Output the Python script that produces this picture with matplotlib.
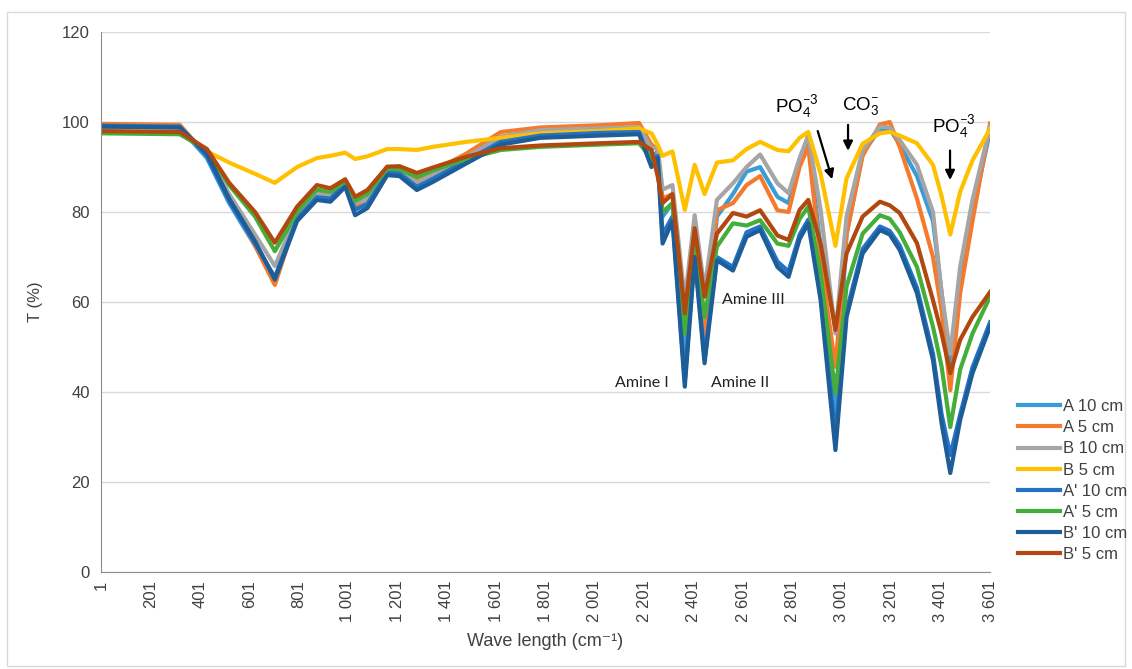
import matplotlib
matplotlib.use("Agg")
import matplotlib.pyplot as plt
from matplotlib.patches import Rectangle

plt.rcParams['font.family'] = ['Liberation Sans', 'DejaVu Sans']
plt.rcParams['mathtext.fontset'] = 'custom'
plt.rcParams['mathtext.rm'] = 'Lato'
plt.rcParams['mathtext.it'] = 'Lato:italic'

# sample positions along the spectrum (data point index)
wave = [1, 320, 430, 520, 625, 705, 795, 875, 930, 990,
        1030, 1080, 1160, 1210, 1280, 1345, 1480, 1620, 1780, 2020,
        2180, 2230, 2255, 2275, 2315, 2365, 2405, 2445, 2495, 2560,
        2615, 2670, 2740, 2785, 2830, 2865, 2915, 2975, 3020, 3085,
        3155, 3195, 3235, 3305, 3370, 3405, 3440, 3480, 3530, 3601]

a_10 = [99.0, 98.8, 92.0, 82.0, 72.5, 65.2, 79.0, 84.0, 83.6, 86.8,
        81.5, 82.6, 89.5, 89.3, 86.3, 88.2, 92.3, 96.5, 97.8, 98.2,
        98.5, 92.0, 93.5, 79.0, 82.0, 48.0, 75.0, 50.0, 79.0, 84.0,
        89.0, 90.0, 83.4, 82.0, 91.0, 96.0, 72.0, 33.5, 75.0, 93.0,
        98.5, 98.5, 95.0, 88.0, 78.0, 62.0, 45.0, 66.0, 80.0, 98.0]
a_5 = [99.6, 99.4, 92.5, 83.5, 72.5, 63.8, 79.0, 84.2, 83.8, 87.0,
       81.0, 83.0, 90.0, 90.0, 87.0, 89.0, 93.0, 97.8, 98.8, 99.3,
       99.8, 95.0, 94.0, 83.0, 84.0, 53.0, 77.5, 51.6, 80.4, 82.0,
       86.0, 88.0, 80.4, 80.0, 90.1, 94.5, 69.3, 45.6, 75.2, 92.5,
       99.5, 100.0, 94.5, 83.0, 70.0, 58.0, 40.4, 62.0, 78.0, 99.7]
b_10 = [99.0, 98.8, 93.0, 84.0, 75.0, 68.0, 79.5, 84.0, 83.6, 86.7,
        82.0, 82.8, 89.4, 89.2, 86.5, 88.3, 92.2, 96.8, 98.2, 98.6,
        98.9, 94.0, 94.5, 85.0, 86.0, 60.4, 79.3, 62.7, 82.7, 86.4,
        90.0, 92.8, 86.4, 84.2, 92.0, 97.1, 80.4, 53.0, 79.0, 93.8,
        99.0, 98.8, 96.0, 90.5, 80.0, 62.0, 48.5, 67.8, 82.7, 99.0]
b_5 = [98.0, 97.8, 93.5, 91.0, 88.5, 86.5, 90.0, 92.0, 92.5, 93.2,
       91.8, 92.4, 94.0, 94.0, 93.8, 94.5, 95.6, 96.5, 97.5, 98.0,
       98.6, 97.5, 95.0, 92.5, 93.5, 80.5, 90.5, 84.0, 91.0, 91.5,
       94.0, 95.6, 93.8, 93.5, 96.5, 97.8, 88.5, 72.5, 87.5, 95.2,
       97.5, 97.8, 97.0, 95.3, 90.5, 83.5, 75.0, 84.5, 91.5, 98.5]
a1_10 = [99.2, 99.0, 92.5, 82.5, 73.0, 65.5, 78.5, 83.3, 83.0, 86.2,
         80.5, 81.8, 88.8, 88.6, 85.6, 87.4, 91.4, 95.6, 97.0, 97.6,
         97.8, 90.5, 92.5, 75.0, 79.0, 42.5, 71.0, 47.5, 70.0, 67.8,
         75.5, 76.8, 69.0, 66.8, 75.0, 78.3, 62.0, 30.5, 58.0, 71.8,
         76.8, 75.8, 72.6, 63.2, 48.5, 35.0, 26.0, 35.0, 45.5, 55.5]
a1_5 = [97.5, 97.3, 93.8, 86.0, 79.0, 71.3, 80.0, 85.0, 84.5, 86.8,
        82.5, 84.0, 89.6, 89.5, 87.8, 89.2, 91.8, 93.8, 94.5, 95.0,
        95.3, 92.0, 90.0, 80.0, 82.0, 53.0, 74.5, 56.7, 72.3, 77.5,
        77.0, 78.2, 73.0, 72.5, 78.5, 81.2, 66.3, 39.7, 63.5, 75.2,
        79.3, 78.5, 75.5, 67.8, 54.5, 45.6, 32.2, 45.0, 53.0, 61.2]
b1_10 = [99.0, 98.8, 93.0, 83.0, 73.5, 65.0, 78.0, 82.7, 82.3, 85.6,
         79.3, 80.9, 88.2, 88.0, 84.9, 86.7, 90.8, 95.0, 96.5, 97.0,
         97.3, 90.0, 92.0, 73.0, 78.0, 41.2, 70.0, 46.4, 69.3, 67.0,
         74.5, 76.0, 67.8, 65.6, 74.0, 77.5, 60.4, 27.1, 56.7, 70.8,
         76.0, 75.0, 71.6, 62.0, 47.1, 33.0, 22.0, 33.8, 44.2, 54.5]
b1_5 = [98.0, 97.8, 94.0, 86.5, 80.0, 73.2, 81.2, 86.0, 85.3, 87.3,
        83.4, 84.9, 90.1, 90.2, 88.7, 89.9, 92.3, 94.2, 94.8, 95.3,
        95.6, 93.8, 88.0, 82.0, 84.0, 57.5, 76.4, 61.2, 75.2, 79.8,
        79.0, 80.4, 74.8, 73.8, 80.5, 82.7, 73.0, 53.8, 70.8, 79.0,
        82.3, 81.5, 79.8, 73.1, 60.4, 53.0, 44.2, 51.6, 56.7, 62.2]

labels = ["A 10 cm", "A 5 cm", "B 10 cm", "B 5 cm",
          "A' 10 cm", "A' 5 cm", "B' 10 cm", "B' 5 cm"]
colors = ["#3A9BDA", "#F47B2E", "#A5A5A5", "#FFC000",
          "#2473C6", "#45AD3A", "#1D5D98", "#B0480F"]
spectra = [a_10, a_5, b_10, b_5, a1_10, a1_5, b1_10, b1_5]

xticks = list(range(1, 3602, 200))
xtick_labels = [f"{t:,}".replace(",", " ") for t in xticks]

fig = plt.figure(figsize=(11.32, 6.69), dpi=100)
ax = fig.add_axes([0.0892, 0.145, 0.7854, 0.807])

for ys, lab, col in zip(spectra, labels, colors):
    ax.plot(wave, ys, color=col, lw=3.0, label=lab, solid_joinstyle='round')

ax.set_xlim(1, 3601)
ax.set_ylim(0, 120)
ax.set_yticks(range(0, 121, 20))
ax.set_xticks(xticks)
ax.set_xticklabels(xtick_labels, rotation=90, fontsize=12, color='#404040')
ax.tick_params(axis='y', labelsize=12, labelcolor='#404040', length=0, pad=8)
ax.tick_params(axis='x', length=0, pad=6)
ax.grid(axis='y', color='#D9D9D9', lw=1)
ax.set_axisbelow(True)
for s in ['top', 'right']:
    ax.spines[s].set_visible(False)
ax.spines['left'].set_color('#8C8C8C')
ax.spines['bottom'].set_color('#8C8C8C')

ax.set_ylabel("T (%)", fontsize=12, color='#404040', labelpad=14)
ax.set_xlabel("Wave length (cm\u207b\u00b9)", fontsize=13, color='#404040', labelpad=8)

# band labels
ann = dict(fontsize=11.5, family='Lato', color='#222222', ha='center', va='center')
ax.text(2192, 42, "Amine I", **ann)
ax.text(2589, 42, "Amine II", **ann)
ax.text(2641, 60.4, "Amine III", **ann)
ax.text(2820, 103.5, r"PO$_4^{-3}$", fontsize=13.5, ha='center', va='center')
ax.text(3075, 103.5, r"CO$_3^{-}$", fontsize=13.5, ha='center', va='center')
ax.text(3455, 99, r"PO$_4^{-3}$", fontsize=13.5, ha='center', va='center')

arrow = dict(arrowstyle='-|>', color='black', lw=1.6, mutation_scale=14)
ax.annotate("", xy=(2965, 86.7), xytext=(2900, 98.6), arrowprops=arrow)
ax.annotate("", xy=(3026, 93.0), xytext=(3026, 100), arrowprops=arrow)
ax.annotate("", xy=(3439, 86.5), xytext=(3439, 94.3), arrowprops=arrow)

fig.legend(loc='upper left', bbox_to_anchor=(0.886, 0.426), frameon=False,
           fontsize=12, handlelength=2.5, handletextpad=0.2, labelspacing=0.37,
           labelcolor='#404040')

fig.patches.append(Rectangle((0.006, 0.005), 0.988, 0.977, transform=fig.transFigure,
                             fill=False, edgecolor='#D9D9D9', lw=1))

fig.savefig("out.png", dpi=100)
